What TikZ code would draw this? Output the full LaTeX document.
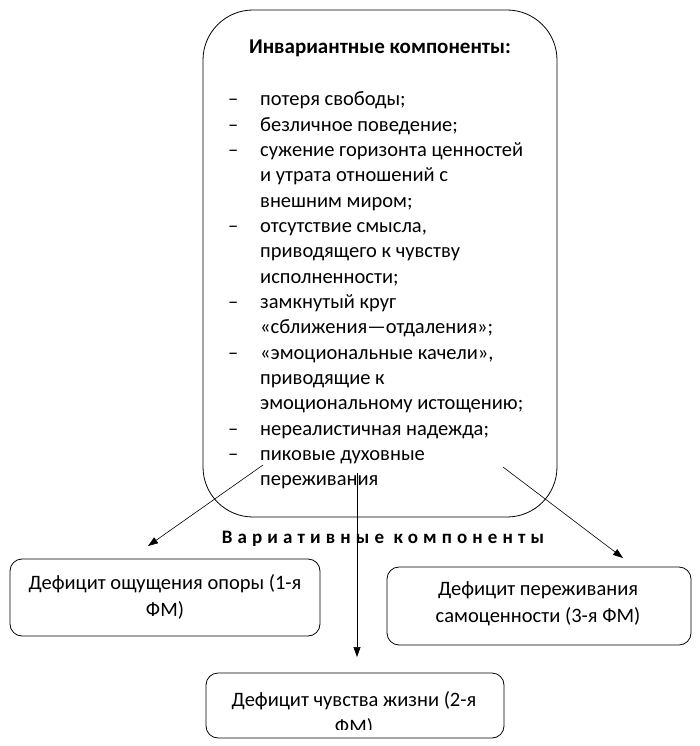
\documentclass[tikz,border=0pt]{standalone}
\usepackage{fontspec}
\setmainfont{Carlito}
\usetikzlibrary{arrows.meta}

\tikzset{
  bigbox/.style={draw, line width=0.8pt, rounded corners=50pt, minimum width=354pt, minimum height=507pt, inner sep=0pt},
  fmbox/.style={draw, line width=0.8pt, rounded corners=12pt, inner sep=0pt},
  fmtext/.style={align=center, inner sep=0pt, font=\fontsize{20.5}{27}\selectfont},
  listline/.style={anchor=base west, inner sep=0pt},
  arr/.style={-{Triangle[length=10pt,width=7pt]}, line width=0.6pt}
}

\begin{document}
\begin{tikzpicture}[x=1pt, y=-1pt, font=\fontsize{20.5}{25}\selectfont]
\useasboundingbox (0,0) rectangle (700,746);

% Draw the invariant box
\node[bigbox] (inv) at (380,263.5) {};
\node[anchor=base, inner sep=0pt, font=\fontsize{21}{24}\selectfont\bfseries] (invtitle) at (380,54) {Инвариантные компоненты:};

% Draw the list of components
\foreach \d/\txt [count=\i] in {1/{потеря свободы;}, 1/{безличное поведение;}, 1/{сужение горизонта ценностей}, 0/{и утрата отношений с}, 0/{внешним миром;}, 1/{отсутствие смысла,}, 0/{приводящего к чувству}, 0/{исполненности;}, 1/{замкнутый круг}, 0/{«сближения—отдаления»;}, 1/{«эмоциональные качели»,}, 0/{приводящие к}, 0/{эмоциональному истощению;}, 1/{нереалистичная надежда;}, 1/{пиковые духовные}, 0/{переживания}}
{
  \node[listline] (line\i) at (260,{106+25.33*(\i-1)}) {\txt};
  \ifnum\d=1 \node[listline] (dash\i) at (228,{106+25.33*(\i-1)}) {–}; \fi
}

% Draw the variative label
\node[anchor=base, inner sep=0pt, font=\fontsize{19}{21}\selectfont\bfseries\addfontfeature{LetterSpace=27}] (var) at (383,543) {Вариативные компоненты};

% Draw the deficit boxes
\node[fmbox, minimum width=310pt, minimum height=77pt] (opora) at (165,597.5) {};
\node[fmtext] (oporatxt) at (165,597) {Дефицит ощущения опоры (1-я\\ФМ)};
\node[fmbox, minimum width=304pt, minimum height=78pt] (samo) at (539,606) {};
\node[fmtext] (samotxt) at (538,604) {Дефицит переживания\\самоценности (3-я ФМ)};
\node[fmbox, minimum width=298pt, minimum height=65pt] (zhizn) at (355,705.5) {};
\begin{scope}
  \clip (zhizn.north west) rectangle ([yshift=9pt]zhizn.south east);
  \node[fmtext] (zhizntxt) at (354,714) {Дефицит чувства жизни (2-я\\ФМ)};
\end{scope}

% Draw the arrows
\coordinate (lfrom) at (263,465);
\coordinate (lto) at (148,546);
\coordinate (mfrom) at (357,473);
\coordinate (mto) at (357,657);
\coordinate (rfrom) at (503,467);
\coordinate (rto) at (623,558);
\draw[arr] (lfrom) -- (lto);
\draw[arr] (mfrom) -- (mto);
\draw[arr] (rfrom) -- (rto);
\end{tikzpicture}
\end{document}
